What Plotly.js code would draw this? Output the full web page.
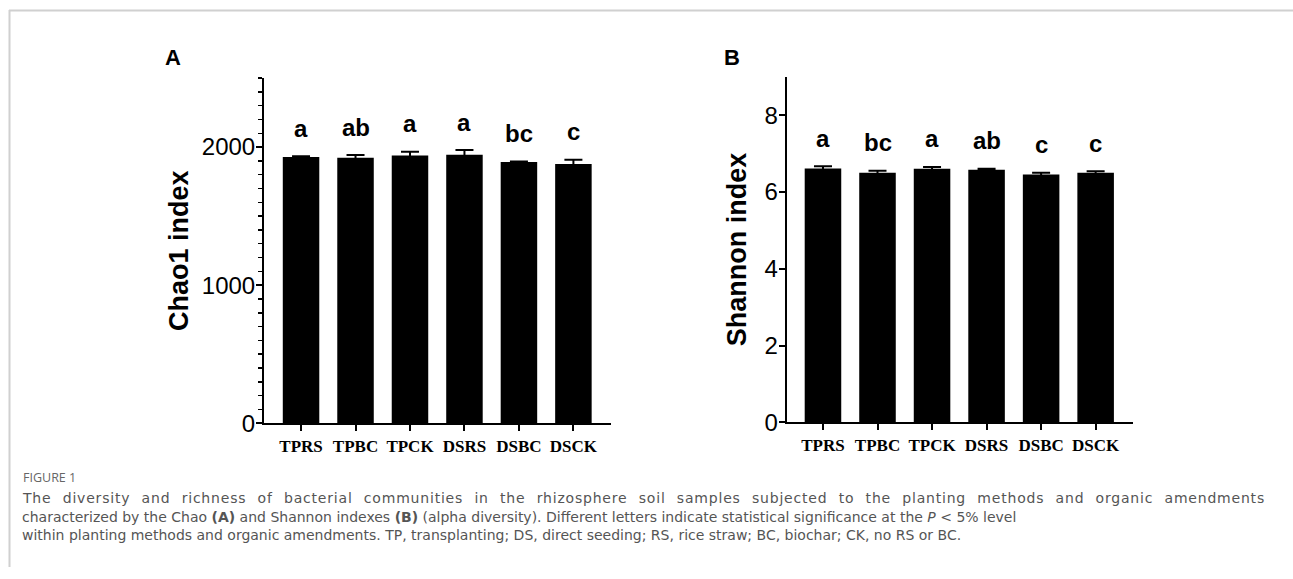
<!DOCTYPE html>
<html>
<head>
<meta charset="utf-8">
<script src="https://cdn.plot.ly/plotly-3.0.1.min.js"></script>
<style>
html,body{margin:0;padding:0;background:#fff;}
#chart{width:1293px;height:579px;}
</style>
</head>
<body>
<div id="chart"></div>
<script>
// ---- data ----
const categories = ['TPRS', 'TPBC', 'TPCK', 'DSRS', 'DSBC', 'DSCK'];
const chao1Mean = [1928, 1922, 1939, 1944, 1891, 1877];
const chao1Err = [5, 20, 27, 34, 4, 31];
const chao1Letters = ['a', 'ab', 'a', 'a', 'bc', 'c'];
const shannonMean = [6.61, 6.50, 6.60, 6.58, 6.45, 6.50];
const shannonErr = [0.06, 0.05, 0.05, 0.02, 0.05, 0.04];
const shannonLetters = ['a', 'bc', 'a', 'ab', 'c', 'c'];
const panelLabels = ['A', 'B'];
const yTitles = ['Chao1 index', 'Shannon index'];
const figureLabel = 'FIGURE 1';
const captionLines = [
  'The diversity and richness of bacterial communities in the rhizosphere soil samples subjected to the planting methods and organic amendments',
  'characterized by the Chao <b>(A)</b> and Shannon indexes <b>(B)</b> (alpha diversity). Different letters indicate statistical significance at the <i>P</i> &lt; 5% level',
  'within planting methods and organic amendments. TP, transplanting; DS, direct seeding; RS, rice straw; BC, biochar; CK, no RS or BC.'
];

const W = 1293, H = 579;
const px = v => v / W;
const py = v => 1 - v / H;

function barTrace(y, err, xa, ya) {
  return {
    type: 'bar', x: categories, y: y, xaxis: xa, yaxis: ya,
    width: 0.67,
    marker: {color: '#000000', line: {width: 0}},
    error_y: {type: 'data', array: err, visible: true, color: '#000000', thickness: 2, width: 9, symmetric: true},
    showlegend: false, hoverinfo: 'x+y'
  };
}

const data = [
  barTrace(chao1Mean, chao1Err, 'x', 'y'),
  barTrace(shannonMean, shannonErr, 'x2', 'y2')
];

const tickFontX = {family: 'Liberation Serif, Times New Roman, serif', size: 17, color: '#000', weight: 'bold'};
const tickFontY = {family: 'Liberation Sans, Arial, sans-serif', size: 24, color: '#000'};
const titleFont = {family: 'Liberation Sans, Arial, sans-serif', size: 27, color: '#000', weight: 'bold'};

function xAxis(domain, range, anchor) {
  return {
    domain: domain, range: range, anchor: anchor, type: 'category',
    showline: true, linecolor: '#000', linewidth: 2,
    ticks: 'outside', ticklen: 6, tickwidth: 2, tickcolor: '#000',
    tickfont: tickFontX, showgrid: false, zeroline: false, fixedrange: true
  };
}
function yAxis(domain, range, anchor, dtick, title, standoff, minor) {
  const a = {
    domain: domain, range: range, anchor: anchor, dtick: dtick,
    showline: true, linecolor: '#000', linewidth: 2,
    ticks: 'outside', ticklen: 6, tickwidth: 2, tickcolor: '#000',
    ticklabelstandoff: -4,
    tickfont: tickFontY, showgrid: false, zeroline: false, fixedrange: true,
    title: {text: title, font: titleFont, standoff: standoff}
  };
  if (minor) a.minor = minor;
  return a;
}

const annotations = [];
function addLetters(means, errs, letters, xref, yref) {
  for (let i = 0; i < categories.length; i++) {
    annotations.push({
      x: categories[i], y: means[i] + errs[i], xref: xref, yref: yref,
      text: '<b>' + letters[i] + '</b>', showarrow: false,
      yanchor: 'middle', yshift: 28,
      font: {family: 'Liberation Sans, Arial, sans-serif', size: 24, color: '#000'}
    });
  }
}
addLetters(chao1Mean, chao1Err, chao1Letters, 'x', 'y');
addLetters(shannonMean, shannonErr, shannonLetters, 'x2', 'y2');

annotations.push({x: px(173), y: py(57), xref: 'paper', yref: 'paper', text: '<b>' + panelLabels[0] + '</b>',
  showarrow: false, xanchor: 'center', yanchor: 'middle', font: {family: 'Liberation Sans, Arial, sans-serif', size: 22, color: '#000'}});
annotations.push({x: px(732), y: py(57), xref: 'paper', yref: 'paper', text: '<b>' + panelLabels[1] + '</b>',
  showarrow: false, xanchor: 'center', yanchor: 'middle', font: {family: 'Liberation Sans, Arial, sans-serif', size: 22, color: '#000'}});

annotations.push({x: px(21), y: py(477), xref: 'paper', yref: 'paper', text: figureLabel,
  showarrow: false, xanchor: 'left', yanchor: 'middle', font: {family: 'Open Sans, sans-serif', size: 12.5, color: '#666'}});
const firstCaptionIndex = annotations.length;
const capY = [498, 516.5, 535];
captionLines.forEach((t, i) => {
  annotations.push({x: px(20), y: py(capY[i]), xref: 'paper', yref: 'paper', text: t,
    showarrow: false, xanchor: 'left', yanchor: 'middle', align: 'left',
    font: {family: 'DejaVu Sans, sans-serif', size: 14, color: '#555'}});
});

const layout = {
  width: W, height: H,
  margin: {l: 0, r: 0, t: 0, b: 0, pad: 0},
  paper_bgcolor: '#fff', plot_bgcolor: 'rgba(0,0,0,0)',
  showlegend: false,
  xaxis: xAxis([px(264), px(611)], [-0.68, 5.69], 'y'),
  yaxis: yAxis([py(423.3), py(78)], [0, 2500], 'x', 1000, yTitles[0], 5,
    {dtick: 100, ticks: 'outside', ticklen: 4, tickwidth: 1.5, tickcolor: '#000', showgrid: false}),
  xaxis2: xAxis([px(786.7), px(1133)], [-0.665, 5.685], 'y2'),
  yaxis2: yAxis([py(422.3), py(76.7)], [0, 9], 'x2', 2, yTitles[1], 10, null),
  annotations: annotations,
  shapes: [
    {type: 'line', xref: 'paper', yref: 'paper', x0: px(9), x1: 1, y0: py(10.5), y1: py(10.5), line: {color: '#d0d0d0', width: 2}},
    {type: 'line', xref: 'paper', yref: 'paper', x0: px(9.5), x1: px(9.5), y0: py(10), y1: py(567), line: {color: '#d0d0d0', width: 2}}
  ]
};

Plotly.newPlot('chart', data, layout, {displayModeBar: false, staticPlot: true}).then(gd => {
  // the first caption line runs to the full text width in the source figure
  const t = gd.querySelector('g.annotation[data-index="' + firstCaptionIndex + '"] text');
  if (t) {
    t.style.letterSpacing = '0.8px';
    const natural = t.getBBox().width;
    const spaces = (captionLines[0].match(/ /g) || []).length;
    const target = 1243;
    if (natural < target && spaces) t.style.wordSpacing = ((target - natural) / spaces) + 'px';
  }
});
</script>
</body>
</html>
